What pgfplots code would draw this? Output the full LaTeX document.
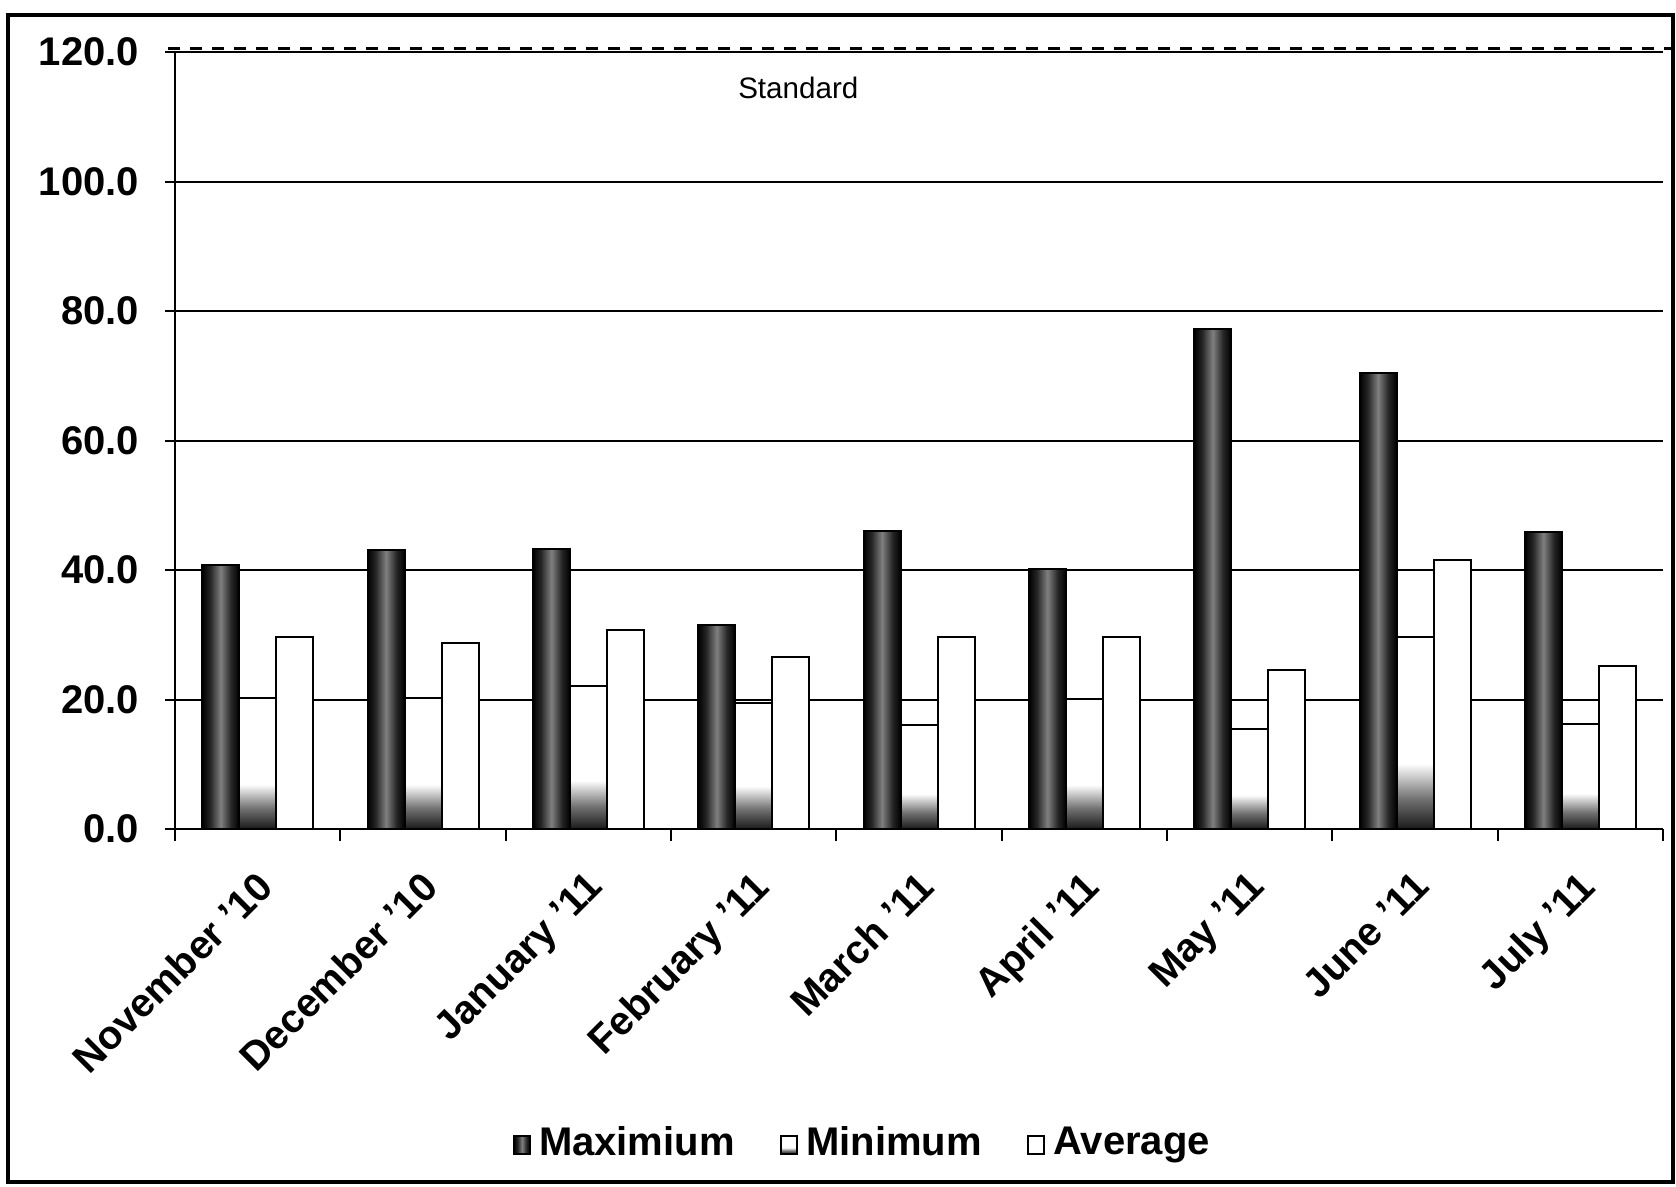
\documentclass[border=0pt]{standalone}
\usepackage{fontspec}
\setmainfont{Liberation Sans}
\usepackage{pgfplots}
\usepackage{pgfplotstable}
\pgfplotsset{compat=1.18}

% shadings mapped onto each bar (bar box = 25bp..75bp)
\pgfdeclarehorizontalshading{maxshade}{100bp}{color(0bp)=(black); color(25bp)=(black); color(36bp)=(black!85); color(50bp)=(black!50); color(64bp)=(black!85); color(75bp)=(black); color(100bp)=(black)}
\pgfdeclareverticalshading{minshade}{100bp}{color(0bp)=(black); color(25bp)=(black!90); color(33bp)=(black!55); color(42bp)=(white); color(100bp)=(white)}

\pgfplotstableread{
x  max   min   avg
1  40.8  20.3  29.6
2  43.1  20.2  28.8
3  43.3  22.1  30.8
4  31.5  19.5  26.5
5  46.1  16.0  29.7
6  40.2  20.1  29.6
7  77.2  15.5  24.5
8  70.5  29.7  41.5
9  45.8  16.2  25.2
}\data

\begin{document}
\begin{tikzpicture}
\useasboundingbox (0,0) rectangle (419pt,-296.5pt);
\draw[line width=0.8pt] (2pt,-3.75pt) rectangle (418.25pt,-295.5pt);
\begin{axis}[
  at={(43.75pt,-207.25pt)}, anchor=south west,
  scale only axis, width=372pt, height=194.25pt,
  xmin=0.5, xmax=9.5, ymin=0, ymax=120,
  ybar=0pt, bar width=9.25pt,
  axis lines=left, axis line style={-, line width=0.6pt},
  clip=false,
  tick align=outside,
  tick style={black, line width=0.5pt},
  xtick={1,...,9},
  xticklabels={November '10, December '10, January '11, February '11, March '11, April '11, May '11, June '11, July '11},
  major x tick style={draw=none},
  minor xtick={0.5,1.5,...,9.5},
  minor tick length=3pt,
  ytick={0,20,...,120},
  major tick length=2.5pt,
  ymajorgrids, grid style={black, line width=0.5pt},
  ticklabel style={font=\bfseries\fontsize{10}{11}\selectfont},
  yticklabel style={/pgf/number format/.cd, fixed, fixed zerofill, precision=1, assume math mode=true, /tikz/.cd, xshift=-3pt},
  xticklabel style={xshift=-0.8pt, yshift=-5.9pt, rotate=45, anchor=north east, inner sep=1pt},
  legend style={at={(0.464,-0.405)}, anchor=center, draw=none, legend columns=3,
    font=\bfseries\fontsize{10}{11}\selectfont,
    /tikz/every even column/.append style={column sep=9.4pt}},
  legend image code/.code={\draw[#1] (0pt,-2.5pt) rectangle (4pt,2pt);},
]
\pgfplotsinvokeforeach{1,...,9}{
  \addplot[forget plot, bar shift=-9.25pt, draw=black, line width=0.5pt, shade, shading=maxshade]
    table[x=x, y=max, restrict x to domain=#1:#1] {\data};
  \addplot[forget plot, bar shift=0pt, draw=black, line width=0.5pt, shade, shading=minshade]
    table[x=x, y=min, restrict x to domain=#1:#1] {\data};
  \addplot[forget plot, bar shift=9.25pt, draw=black, line width=0.5pt, fill=white]
    table[x=x, y=avg, restrict x to domain=#1:#1] {\data};
}
\addlegendimage{draw=black, line width=0.5pt, shade, shading=maxshade}
\addlegendentry{Maximium}
\addlegendimage{draw=black, line width=0.5pt, shade, shading=minshade}
\addlegendentry{Minimum}
\addlegendimage{draw=black, line width=0.5pt, fill=white}
\addlegendentry{Average}
% Standard
\addplot[sharp plot, forget plot, black, line width=0.8pt, dash pattern=on 3pt off 2.5pt, yshift=0.9pt]
  coordinates {(0.46,120) (9.55,120)};
\node[font=\fontsize{7.4}{9}\selectfont] at (axis cs:4.27,114.4) {Standard};
\end{axis}
\end{tikzpicture}
\end{document}
